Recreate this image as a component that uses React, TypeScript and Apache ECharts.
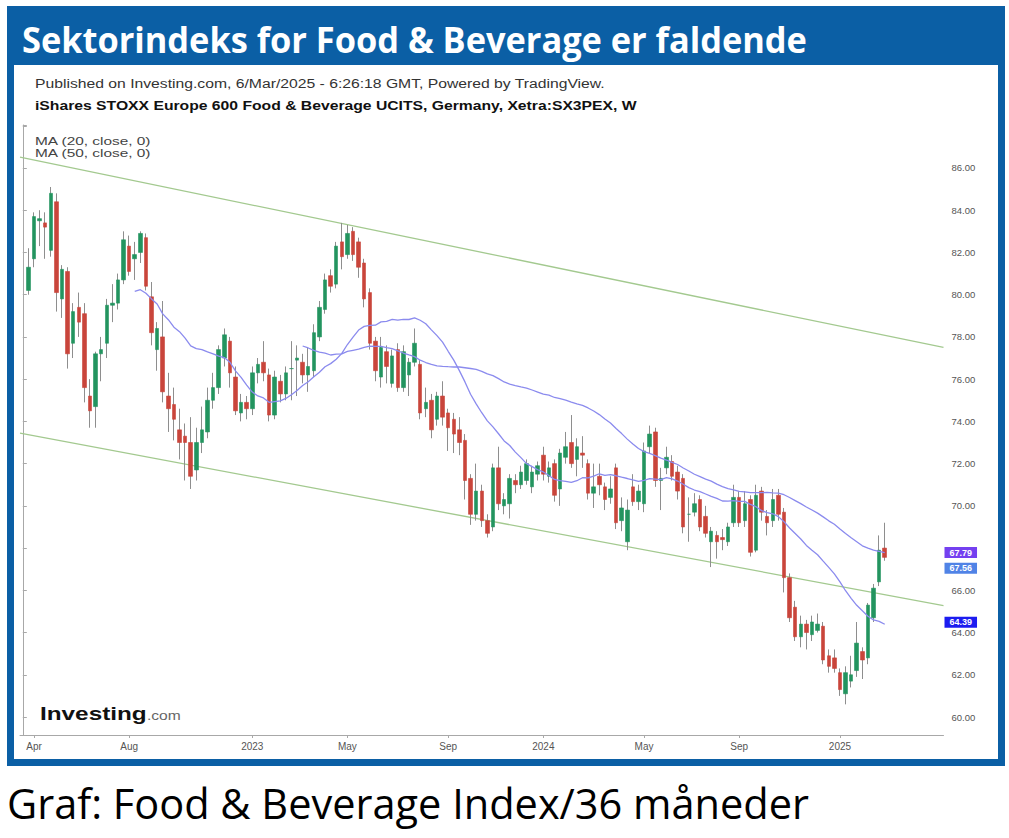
import { useEffect, useRef } from "react";
import * as echarts from "echarts";

// ---------- categories: weekly bars (Monday of each week) ----------
const WEEK_MS = 7 * 24 * 3600 * 1000;
const FIRST_WEEK = Date.UTC(2022, 2, 21);
const WEEK_COUNT = 165;
const categories: string[] = Array.from({ length: WEEK_COUNT }, (_, w) =>
  new Date(FIRST_WEEK + w * WEEK_MS).toISOString().slice(0, 10)
);
const CANDLE_OFFSET = 1; // first candle = week of 2022-03-28

// ---------- weekly OHLC ----------
const opens = [
  80.2, 81.7, 83.5, 83.4, 82.1, 84.4, 79.8, 81.1, 77.7, 79.4,
  79.1, 75.2, 74.7, 77.2, 77.7, 79.5, 79.6, 80.7, 82.3, 81.7,
  82.0, 82.7, 79.9, 77.4, 78.0, 75.2, 74.8, 73.6, 73.3, 73.0,
  71.7, 73.0, 73.5, 75.0, 75.6, 77.0, 77.8, 76.1, 74.4, 74.9,
  74.6, 76.3, 76.8, 76.2, 74.3, 75.9, 75.3, 76.5, 76.9, 76.8,
  76.2, 76.4, 78.0, 79.3, 80.9, 80.5, 82.5, 81.9, 83.0, 82.5,
  81.5, 80.1, 77.8, 76.1, 77.3, 75.8, 77.4, 75.6, 76.2, 76.8,
  76.7, 74.6, 75.0, 74.1, 75.2, 74.4, 74.1, 73.6, 73.1, 71.3,
  69.6, 70.7, 69.3, 69.0, 71.8, 70.0, 70.1, 71.2, 71.0, 71.2,
  70.9, 71.5, 72.4, 71.4, 72.0, 70.8, 72.3, 73.0, 72.2, 72.5,
  72.0, 70.6, 71.4, 70.9, 70.4, 71.8, 69.3, 68.3, 70.9, 70.2,
  70.1, 72.8, 73.5, 71.2, 71.8, 72.1, 71.6, 71.3, 69.6, 69.7,
  70.3, 69.5, 68.3, 68.6, 68.5, 68.3, 69.2, 70.4, 69.3, 70.3,
  67.9, 70.7, 69.5, 69.3, 70.5, 69.7, 66.6, 65.2, 63.8, 64.4,
  63.9, 64.1, 64.3, 62.9, 62.8, 62.1, 61.1, 61.7, 62.2, 63.1,
  62.8, 64.7, 66.4, 68.0,
];
const closes = [
  81.3, 83.7, 83.6, 83.2, 84.8, 80.1, 81.2, 77.2, 79.2, 78.7,
  75.6, 74.5, 77.2, 77.4, 79.5, 79.6, 80.7, 82.6, 81.1, 81.9,
  82.9, 80.4, 78.2, 78.4, 75.4, 74.6, 74.1, 73.0, 73.0, 71.4,
  73.0, 73.6, 75.0, 75.6, 77.4, 78.1, 76.3, 74.5, 74.9, 74.6,
  76.3, 76.7, 76.3, 74.3, 76.1, 75.3, 76.3, 76.5, 77.0, 76.2,
  76.6, 78.2, 79.4, 80.7, 80.4, 82.3, 81.8, 82.9, 81.9, 81.3,
  79.8, 77.7, 76.4, 77.5, 76.6, 77.1, 75.6, 77.3, 76.8, 77.7,
  74.4, 74.9, 73.6, 75.2, 74.2, 73.7, 73.4, 73.0, 71.2, 69.6,
  70.7, 69.3, 68.7, 71.8, 70.1, 70.3, 71.3, 71.0, 71.6, 72.0,
  71.6, 71.9, 71.5, 71.8, 70.5, 72.5, 72.8, 72.0, 72.8, 72.4,
  70.6, 70.9, 71.0, 70.3, 70.8, 69.2, 69.9, 69.8, 70.2, 70.7,
  72.6, 73.4, 71.2, 71.3, 72.3, 71.4, 70.7, 69.0, 69.6, 70.1,
  69.0, 68.7, 68.8, 68.3, 68.4, 69.0, 70.4, 69.2, 70.1, 67.8,
  70.5, 69.7, 69.2, 70.3, 69.6, 66.6, 64.7, 63.8, 64.4, 64.0,
  64.5, 64.4, 62.7, 62.4, 62.3, 61.3, 62.1, 62.0, 63.5, 62.7,
  65.3, 66.1, 67.9, 67.56,
];
const lows = [
  80.0, 81.3, 82.3, 81.7, 81.8, 79.2, 78.9, 76.5, 77.0, 78.0,
  74.9, 73.7, 73.7, 75.9, 77.0, 78.7, 79.3, 80.5, 80.9, 80.7,
  81.5, 80.2, 77.6, 76.4, 74.9, 73.5, 73.1, 72.2, 71.2, 70.8,
  71.2, 72.5, 73.2, 74.6, 75.3, 76.6, 75.6, 74.3, 74.0, 74.1,
  74.3, 75.8, 75.9, 74.0, 74.1, 74.9, 75.0, 75.0, 75.2, 75.8,
  75.4, 76.1, 77.8, 79.1, 80.1, 80.3, 81.2, 81.7, 81.6, 80.8,
  79.4, 77.4, 75.9, 75.6, 75.8, 75.6, 75.4, 75.4, 75.2, 76.6,
  74.1, 74.2, 73.2, 73.8, 73.8, 72.6, 72.5, 72.4, 70.3, 69.1,
  69.3, 69.0, 68.5, 68.8, 69.8, 69.6, 69.4, 70.6, 70.8, 71.0,
  70.6, 71.2, 71.2, 71.1, 70.2, 70.0, 72.0, 71.8, 71.4, 71.8,
  70.3, 69.9, 70.5, 69.8, 70.1, 68.9, 68.8, 67.9, 70.0, 69.8,
  69.7, 72.5, 70.9, 69.8, 71.5, 71.2, 70.3, 68.7, 68.3, 69.5,
  68.8, 68.5, 67.1, 67.5, 67.9, 68.1, 69.0, 69.0, 69.0, 67.6,
  67.8, 69.3, 68.6, 69.0, 69.3, 65.9, 64.5, 63.6, 63.3, 63.2,
  63.6, 64.0, 62.5, 62.1, 62.1, 61.0, 60.6, 61.4, 61.9, 61.8,
  62.5, 64.5, 66.2, 67.4,
];
const highs = [
  82.2, 83.9, 84.0, 83.9, 85.1, 84.8, 81.4, 81.3, 79.6, 80.1,
  79.6, 76.0, 77.3, 78.0, 79.8, 80.5, 81.0, 83.0, 82.8, 82.5,
  83.0, 82.9, 80.6, 78.7, 79.7, 76.3, 75.6, 74.6, 73.9, 74.2,
  73.7, 74.7, 75.6, 76.3, 77.6, 78.4, 78.0, 76.6, 75.3, 75.2,
  76.6, 77.0, 77.8, 76.5, 76.4, 76.2, 76.6, 77.8, 77.6, 77.2,
  77.5, 78.6, 79.7, 81.0, 81.2, 82.5, 83.4, 83.3, 83.2, 82.7,
  81.7, 80.3, 78.0, 78.0, 77.6, 77.4, 77.7, 77.6, 77.0, 78.4,
  76.9, 75.6, 75.3, 75.4, 75.9, 74.6, 74.4, 74.2, 73.4, 71.5,
  72.0, 71.0, 69.6, 72.0, 72.8, 70.6, 71.5, 71.5, 71.9, 72.2,
  71.9, 72.1, 72.8, 72.1, 72.2, 72.7, 73.5, 74.3, 73.2, 73.3,
  72.2, 72.0, 72.0, 71.1, 71.4, 72.0, 70.4, 70.3, 71.5, 71.0,
  73.0, 73.8, 73.7, 71.8, 72.8, 72.4, 71.9, 71.5, 70.4, 70.6,
  70.5, 70.0, 69.0, 68.8, 68.9, 69.2, 71.0, 70.7, 70.7, 70.5,
  71.0, 70.9, 69.8, 70.8, 70.8, 69.9, 66.8, 65.5, 64.8, 64.6,
  64.8, 64.9, 64.5, 63.2, 63.2, 62.3, 62.4, 62.9, 64.5, 63.3,
  65.4, 66.3, 68.6, 69.2,
];

// ---------- x tick labels ----------
const tickLabels: [string, string][] = [
  ["2022-04-04", "Apr"],
  ["2022-08-01", "Aug"],
  ["2023-01-02", "2023"],
  ["2023-05-01", "May"],
  ["2023-09-04", "Sep"],
  ["2024-01-01", "2024"],
  ["2024-05-06", "May"],
  ["2024-09-02", "Sep"],
  ["2025-01-06", "2025"],
];
const tickMap = new Map(tickLabels);

// ---------- trend channel (x in category-index units) ----------
const upperTrend = [
  [-0.5, 86.51],
  [164.5, 77.5],
];
const lowerTrend = [
  [-0.5, 73.44],
  [164.5, 65.27],
];

function movingAverage(period: number): [string, number][] {
  const out: [string, number][] = [];
  for (let i = period - 1; i < closes.length; i++) {
    let s = 0;
    for (let j = i - period + 1; j <= i; j++) s += closes[j];
    out.push([categories[i + CANDLE_OFFSET], s / period]);
  }
  return out;
}

const UP = "#23945f";
const DOWN = "#c9453b";
const WICK = "#8e8e8e";
const MA_COLOR = "#8b8bee";
const TREND_COLOR = "#a3c98f";

export default function App() {
  const ref = useRef<HTMLDivElement>(null);

  useEffect(() => {
    if (!ref.current) return;
    const chart = echarts.init(ref.current, null, { renderer: "svg" });

    const candles = opens.map((o, i) => [
      categories[i + CANDLE_OFFSET], o, closes[i], lows[i], highs[i],
    ]);
    const bodies = opens.map((o, i) => [
      categories[i + CANDLE_OFFSET], o, closes[i], Math.min(o, closes[i]), Math.max(o, closes[i]),
    ]);
    const ma20 = movingAverage(20);
    const ma50 = movingAverage(50);
    const lastClose = closes[closes.length - 1];
    const lastMa20 = ma20[ma20.length - 1][1];
    const lastMa50 = ma50[ma50.length - 1][1];
    const tagValues = [lastClose, lastMa20, lastMa50];

    const priceTag = (value: number, bg: string, offsetY: number) => ({
      yAxis: value,
      lineStyle: { color: "rgba(0,0,0,0)", width: 0 },
      label: {
        show: true,
        position: "end",
        formatter: value.toFixed(2),
        backgroundColor: bg,
        color: "#ffffff",
        fontSize: 9,
        fontWeight: "bold",
        fontFamily: "Liberation Sans",
        padding: [1, 5, 1, 5],
        distance: 1,
        offset: [0, offsetY],
      },
    });

    const txt = (
      text: string, x: number, y: number, size: number, color: string,
      opts: { bold?: boolean; family?: string; scaleX?: number } = {}
    ) => ({
      type: "text",
      x,
      y,
      scaleX: opts.scaleX ?? 1,
      z: 50,
      silent: true,
      style: {
        text,
        fill: color,
        fontSize: size,
        fontWeight: opts.bold ? "bold" : "normal",
        fontFamily: opts.family ?? "Liberation Sans",
        textVerticalAlign: "middle",
      },
    });

    chart.setOption({
      animation: false,
      backgroundColor: "#ffffff",
      grid: { left: 20, right: 65.5, top: 125, bottom: 103, containLabel: false },
      graphic: [
        { type: "rect", z: -10, silent: true, shape: { x: 7, y: 6, width: 998, height: 760 }, style: { fill: "#0b5fa5" } },
        { type: "rect", z: -9, silent: true, shape: { x: 14, y: 65, width: 984, height: 694 }, style: { fill: "#ffffff" } },
        txt("Sektorindeks for Food & Beverage er faldende", 22, 39, 35, "#ffffff", { bold: true, family: "Open Sans", scaleX: 0.982 }),
        txt("Published on Investing.com, 6/Mar/2025 - 6:26:18 GMT, Powered by TradingView.", 35, 84, 12, "#333333", { scaleX: 1.31 }),
        txt("iShares STOXX Europe 600 Food & Beverage UCITS, Germany, Xetra:SX3PEX, W", 35, 106, 12, "#111111", { bold: true, scaleX: 1.31 }),
        txt("MA (20, close, 0)", 35, 141, 11, "#444444", { scaleX: 1.4 }),
        txt("MA (50, close, 0)", 35, 153, 11, "#444444", { scaleX: 1.4 }),
        txt("Investing", 40, 713, 19, "#111111", { bold: true, scaleX: 1.28 }),
        txt(".com", 147, 716, 12, "#666666", { scaleX: 1.3 }),
        txt("Graf: Food & Beverage Index/36 måneder", 7, 803, 41.5, "#000000", { family: "Open Sans" }),
      ],
      xAxis: [
        {
          type: "category",
          data: categories,
          boundaryGap: true,
          axisLine: { show: true, lineStyle: { color: "#a8a8a8" } },
          axisTick: {
            show: true,
            alignWithLabel: true,
            length: 3,
            interval: (_i: number, v: string) => tickMap.has(v),
            lineStyle: { color: "#a8a8a8" },
          },
          axisLabel: {
            interval: (_i: number, v: string) => tickMap.has(v),
            formatter: (v: string) => tickMap.get(v) ?? "",
            color: "#555555",
            fontSize: 10,
            fontFamily: "Liberation Sans",
            margin: 6,
          },
          splitLine: { show: false },
        },
        { type: "value", min: -0.5, max: WEEK_COUNT - 0.5, show: false },
      ],
      yAxis: {
        type: "value",
        position: "right",
        min: 59.148,
        max: 88.036,
        minInterval: 2,
        maxInterval: 2,
        axisLine: { show: true, lineStyle: { color: "#a8a8a8" } },
        axisTick: { show: true, length: 4, lineStyle: { color: "#a8a8a8" } },
        axisLabel: {
          margin: 8,
          color: "#555555",
          fontSize: 9.5,
          fontFamily: "Liberation Sans",
          formatter: (v: number) => {
            if (v < 60 || v > 86 || Math.abs(v - Math.round(v)) > 1e-6) return "";
            // the price tags cover the tick label they sit on
            if (tagValues.some((t) => Math.abs(t - v) < 0.3)) return "";
            return v.toFixed(2);
          },
        },
        splitLine: { show: false },
      },
      series: [
        {
          name: "Upper trend",
          type: "line",
          xAxisIndex: 1,
          data: upperTrend,
          symbol: "none",
          silent: true,
          lineStyle: { color: TREND_COLOR, width: 1.3 },
          z: 1,
        },
        {
          name: "Lower trend",
          type: "line",
          xAxisIndex: 1,
          data: lowerTrend,
          symbol: "none",
          silent: true,
          lineStyle: { color: TREND_COLOR, width: 1.3 },
          z: 1,
        },
        {
          name: "Wicks",
          type: "candlestick",
          data: candles,
          encode: { x: 0, y: [1, 2, 3, 4] },
          barWidth: 1,
          silent: true,
          itemStyle: { color: WICK, color0: WICK, borderColor: WICK, borderColor0: WICK, borderWidth: 1 },
          z: 2,
        },
        {
          name: "SX3PEX",
          type: "candlestick",
          data: bodies,
          encode: { x: 0, y: [1, 2, 3, 4] },
          barWidth: 4,
          silent: true,
          itemStyle: { color: UP, color0: DOWN, borderColor: UP, borderColor0: DOWN, borderWidth: 0.6 },
          markLine: { symbol: ["none", "none"], silent: true, data: [priceTag(lastClose, "#5083e6", 11)] },
          z: 3,
        },
        {
          name: "MA 20",
          type: "line",
          data: ma20,
          symbol: "none",
          silent: true,
          lineStyle: { color: MA_COLOR, width: 1.3 },
          markLine: { symbol: ["none", "none"], silent: true, data: [priceTag(lastMa20, "#1c1cf0", -2)] },
          z: 4,
        },
        {
          name: "MA 50",
          type: "line",
          data: ma50,
          symbol: "none",
          silent: true,
          lineStyle: { color: MA_COLOR, width: 1.3 },
          markLine: { symbol: ["none", "none"], silent: true, data: [priceTag(lastMa50, "#7440f0", 0)] },
          z: 4,
        },
      ],
    });

    return () => chart.dispose();
  }, []);

  return (
    <div style={{ position: "absolute", left: 0, top: 0, width: 1009, height: 838, background: "#fff" }}>
      <div ref={ref} style={{ width: 1009, height: 838 }} />
    </div>
  );
}
